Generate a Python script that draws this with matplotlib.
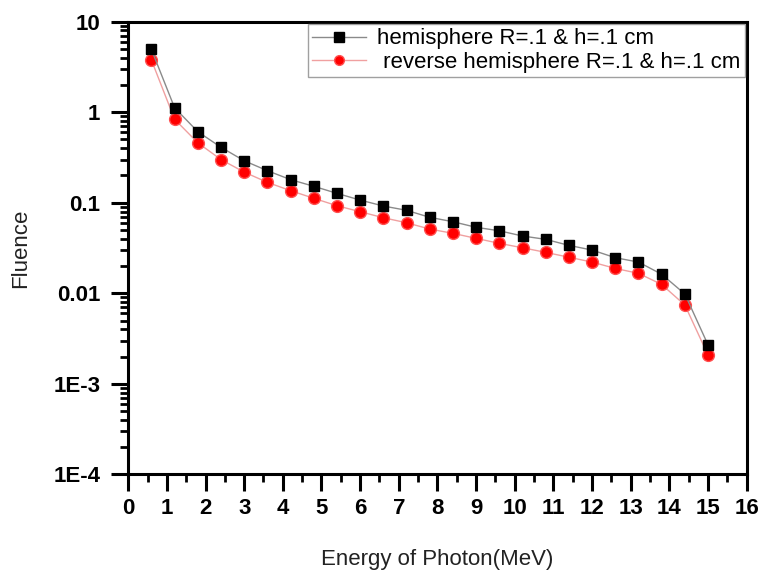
import matplotlib
matplotlib.use("Agg")
import matplotlib.pyplot as plt
from matplotlib.ticker import FixedLocator, FixedFormatter, LogLocator, MultipleLocator, NullFormatter

plt.rcParams['font.family'] = ['Liberation Sans', 'DejaVu Sans']

energy = [0.6, 1.2, 1.8, 2.4, 3.0, 3.6, 4.2, 4.8, 5.4, 6.0, 6.6, 7.2, 7.8,
          8.4, 9.0, 9.6, 10.2, 10.8, 11.4, 12.0, 12.6, 13.2, 13.8, 14.4, 15.0]
hemisphere = [4.95, 1.12, 0.61, 0.41, 0.291, 0.226, 0.18, 0.152, 0.127, 0.107,
              0.092, 0.0825, 0.069, 0.0617, 0.0535, 0.049, 0.0429, 0.0394,
              0.0338, 0.030, 0.0247, 0.0221, 0.0162, 0.0098, 0.00268]
reverse = [3.78, 0.836, 0.46, 0.30, 0.218, 0.168, 0.136, 0.112, 0.0927, 0.0796,
           0.0683, 0.0601, 0.0512, 0.0459, 0.0404, 0.0356, 0.0318, 0.0283,
           0.0250, 0.0221, 0.0188, 0.0166, 0.0125, 0.0074, 0.00207]
label1 = "hemisphere R=.1 & h=.1 cm"
label2 = " reverse hemisphere R=.1 & h=.1 cm"
ytick_vals = [1e-4, 1e-3, 1e-2, 1e-1, 1, 10]
ytick_labels = ["1E-4", "1E-3", "0.01", "0.1", "1", "10"]

fig = plt.figure(figsize=(7.63, 5.76), dpi=100)
ax = fig.add_axes([0.168, 0.1766, 0.8107, 0.7857])

ax.plot(energy, hemisphere, color='#8a8a8a', lw=1.0, marker='s', ms=7.5,
        mfc='black', mec='black', label=label1, zorder=3)
ax.plot(energy, reverse, color='#f0a0a0', lw=1.0, marker='o', ms=8.5,
        mfc='#ff0000', mec='#ff5050', mew=1.0, label=label2, zorder=2)

ax.set_yscale('log')
ax.set_xlim(0, 16)
ax.set_ylim(1e-4, 10)

ax.xaxis.set_major_locator(MultipleLocator(1))
ax.xaxis.set_minor_locator(MultipleLocator(0.5))
ax.yaxis.set_major_locator(FixedLocator(ytick_vals))
ax.yaxis.set_major_formatter(FixedFormatter(ytick_labels))
ax.yaxis.set_minor_locator(LogLocator(base=10, subs=range(2, 10)))
ax.yaxis.set_minor_formatter(NullFormatter())

ax.tick_params(axis='both', which='major', direction='out', length=12, width=2.2,
               labelsize=16, pad=5)
ax.tick_params(axis='y', which='major', pad=8)
ax.tick_params(axis='both', which='minor', direction='out', length=6, width=2.0)
ax.tick_params(top=False, right=False)
for lab in ax.get_xticklabels() + ax.get_yticklabels():
    lab.set_fontweight('bold')

for s in ax.spines.values():
    s.set_linewidth(2.2)

ax.set_xlabel("Energy of Photon(MeV)", fontsize=16, color='#222222', labelpad=22)
ax.set_ylabel("Fluence", fontsize=16, color='#222222', labelpad=16)

leg = ax.legend(loc='upper right', fontsize=16, frameon=True, fancybox=False,
                edgecolor='#888888', borderaxespad=0.1, handlelength=2.4,
                handletextpad=0.5, borderpad=0.2, labelspacing=0.12)
leg.get_frame().set_linewidth(1.0)
for h in leg.legend_handles:
    h.set_markersize(7)

fig.savefig("out.png", dpi=100)
